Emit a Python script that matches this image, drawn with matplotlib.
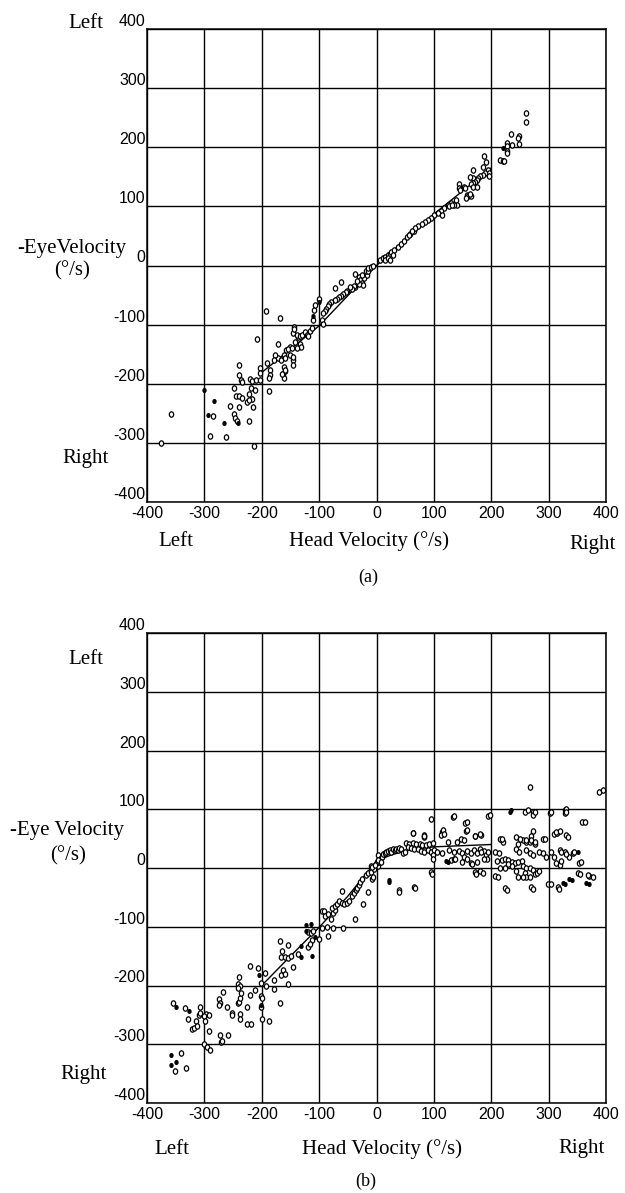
import matplotlib
matplotlib.use("Agg")
import matplotlib.pyplot as plt
from matplotlib.path import Path
from matplotlib.transforms import Affine2D

# ---------------- data ----------------
ticks = [-400, -300, -200, -100, 0, 100, 200, 300, 400]
tick_labels = ["-400", "-300", "-200", "-100", "0", "100", "200", "300", "400"]

# Panel (a): head velocity vs -eye velocity (deg/s), hollow markers
a_open_x = [-192, -168, -143, -145, -208, -172, -136, -151,
            -157, -162, -171, -177, -179, -166, -160, -151, -146, -145,
            -239, -190, -203, -203, -186, -186, -188,
            -162, -160, -163, -162,
            -240, -237, -235, -220, -217, -210, -203,
            -248, -219, -211, -188, -245, -240, -234, -223, -217, -226, -222,
            -256, -240, -216, -359, -285, -249, -246, -244, -223, -290, -262,
            -375, -213,
            -144, -139, -133, -129, -125, -122, -119, -116, -113, -134, -132,
            -138, -142, -154, -148, -110, -95, -93, -109, -145, -159, -165,
            -62, -73, -37, -31, -28, -25, -21, -17, -19, -14, -25, -23, -31,
            -37, -34, -40, -42, -47, -51, -54, -59, -62, -65, -68, -73, -79,
            -82, -85, -88, -90, -93, -14, -10, -6, 6, 11, 14, 20, 23, 25, 31,
            37, 42, 48, 54, 59, 65, 14, 20, 23, 28, -108, -100,
            261, 261, 234, 249, 247, 249, 228, 236, 227, 227, 227, 216, 220,
            223, 188, 190, 185, 194, 196, 196, 168, 189, 185, 180, 177, 175,
            169, 163, 172, 168, 164, 144, 144, 152, 155, 146, 169, 175, 158,
            160, 164, 163, 156, 138, 141, 135, 129, 124, 118, 112, 107, 101,
            95, 90, 84, 79, 73, 67, 62, 56, 114, 127, 132]
a_open_y = [-77, -89, -104, -115, -125, -133, -121, -138,
            -143, -151, -156, -152, -159, -159, -156, -152, -159, -168,
            -168, -165, -173, -181, -177, -185, -190,
            -172, -178, -184, -190,
            -186, -193, -197, -192, -196, -194, -193,
            -207, -207, -210, -213, -220, -221, -224, -217, -225, -231, -228,
            -238, -240, -240, -252, -255, -251, -258, -263, -263, -289, -290,
            -301, -305,
            -107, -117, -120, -117, -113, -117, -120, -110, -106, -133, -137,
            -140, -130, -141, -140, -93, -93, -99, -75, -155, -177, -184,
            -28, -38, -14, -20, -24, -29, -21, -16, -10, -9, -16, -33, -32,
            -37, -26, -35, -40, -37, -43, -44, -48, -51, -54, -57, -59, -62,
            -65, -69, -73, -77, -81, -4, -2, 0, 9, 12, 15, 18, 20, 23, 26,
            31, 37, 42, 48, 53, 59, 9, 12, 9, 18, -67, -57,
            258, 242, 223, 219, 216, 206, 207, 203, 202, 194, 190, 179, 176,
            176, 185, 175, 166, 162, 157, 151, 162, 156, 153, 151, 148, 145,
            148, 149, 142, 140, 137, 138, 131, 132, 131, 128, 132, 132, 120,
            117, 117, 121, 115, 111, 103, 103, 106, 103, 97, 92, 89, 86,
            81, 77, 73, 70, 66, 63, 58, 52, 86, 100, 102]
# Panel (a): filled markers
a_fill_x = [-301, -283, -294, -265, -242, -111, -101, 220]
a_fill_y = [-210, -230, -253, -266, -266, -86, -62, 199]
# Panel (a): fitted line
a_fit_x = [-200, -100, 0, 100, 200]
a_fit_y = [-181, -102, 0, 87, 165]

# Panel (b): hollow markers
b_open_x = [-355, -334, -308, -329, -314, -310, -307, -298, -292, -300, -299,
            -322, -318, -313, -292, -301, -295, -291, -273, -258, -271, -269,
            -341, -351, -332, -267, -275, -272, -274, -261, -252, -252, -238,
            -238, -226, -226, -218, -242, -239, -238, -236, -240, -241, -238,
            -241, -220, -212, -220, -206, -201, -202, -202, -199, -199, -188,
            -195, -192, -179, -179, -169, -169, -164, -154, -167, -160, -154,
            -149, -163, -166, -160, -155, -146, -136, -120, -114, -110, -113,
            -119, -116, -101, -95, -86, -84, -75, -58,
            -95, -91, -89, -84, -79, -75, -73, -78, -72, -69, -65, -60, -57,
            -52, -48, -42, -39, -36, -34, -31, -28, -25, -19, -14, -10, -4, 2,
            5, -60, -38, -24, -14, -7, -10, -7,
            268, 388, 394, 259, 273, 272, 302, 328, 328, 359, 95, 134, 155, 156,
            195, 63, 82, 82, 115, 113, 182, 171, 147, 152, 140, 124,
            52, 57, 63, 69, 75, 80, 86, 92, 98, 55, 60, 66, 72, 78, 83, 89,
            95, 101, 3, 6, 9, 11, 14, 17, 20, 23, 26, 29, 32, 34, 37, 40, 43,
            46, 49, 0, -3, -6, 2, 7, 98, 98, 129, 135,
            106, 115, 126, 135, 144, 149, 158, 164, 170, 175, 181, 187, 190,
            193, 187, 152, 158, 164, 175, 149,
            95, 172, 181, 207, 224, 270, 316, 299, 351, 371, 39, 66,
            216, 221, 244, 247, 256, 261, 267, 276, 290, 243, 249, 261, 267,
            273, 284, 290, 296, 305, 310, 319, 328, 207, 213, 218, 224, 230,
            236, 241, 247, 253, 256, 261, 267, 273, 276, 279, 284, 259, 261,
            267, 256, 247, 244, 236, 230, 224, 216, 210, 313, 319, 322, 336,
            342, 353, 273, 270, 310, 314, 330, 345,
            304, 318, 354, 369, 377, 273, 228, 211, 174, 186, 166, 96, 67, 39,
            197, 135, 157, 158, 171, 180, 264, 276, 305, 331, 331, 363, 312,
            319, 333, 219, 250, 261, 270, 276, 294, 322, 331, 357, 116, 118,
            64, 83, 183, 195, 136]
b_open_y = [-230, -238, -236, -257, -261, -251, -247, -248, -250, -252, -261,
            -274, -272, -269, -277, -300, -304, -309, -284, -284, -296, -294,
            -315, -346, -340, -211, -223, -229, -233, -236, -247, -251, -248,
            -257, -237, -266, -266, -230, -228, -221, -212, -186, -197, -201,
            -204, -217, -208, -166, -171, -196, -218, -237, -221, -257, -261,
            -179, -201, -190, -206, -229, -125, -141, -131, -152, -151, -154,
            -149, -173, -182, -180, -198, -169, -146, -109, -111, -107, -123,
            -134, -130, -121, -102, -100, -115, -102, -102,
            -74, -73, -82, -79, -86, -76, -71, -68, -65, -61, -57, -59, -62,
            -59, -56, -48, -43, -37, -34, -29, -23, -19, -12, -9, -6, -1, 4,
            10, -39, -86, -62, -41, -18, 4, 2,
            138, 129, 133, 96, 95, 91, 93, 99, 93, 78, 84, 87, 76, 63,
            88, 59, 56, 52, 62, 57, 56, 55, 49, 48, 45, 45,
            43, 41, 43, 41, 41, 40, 40, 41, 43, 36, 34, 32, 32, 29, 27, 30,
            27, 30, 22, 16, 19, 23, 25, 27, 29, 30, 27, 32, 30, 33, 30, 34, 32,
            25, 27, 11, 5, -16, 14, 11, 22, 15, 14, 15,
            27, 25, 30, 27, 29, 25, 29, 26, 30, 25, 33, 29, 22,
            16, 15, 18, 15, 8, 11, 11,
            -7, -7, -5, -14, -34, -33, -33, -27, -8, -14, -37, -32,
            49, 44, 52, 41, 47, 44, 44, 41, 49, 32, 27, 30, 25,
            22, 27, 25, 19, 27, 18, 30, 27, 27, 25, 14, 15, 14,
            11, 8, 10, 12, 3, 0, 0, -3, -11, -8, -5, -8, -15,
            -16, -16, -16, -5, 3, 7, 0, 0, 12, 8, 5, 12, 19,
            25, 8, 63, 55, 58, 60, 56, 27,
            -28, -35, -10, -12, -15, -35, -37, -15, -10, -8, 6, -10, -34, -41,
            90, 88, 78, 64, 55, 58, 98, 95, 96, 100, 95, 79, 61,
            63, 53, 50, 50, 47, 47, 44, 50, 27, 24, 10, 64, 58,
            60, 55, 27, 27, 15]
# Panel (b): filled markers
b_fill_x = [-349, -326, -359, -349, -359, -204, -201, -132, -132, -123, -114,
            -123, -108, -112, 232, 122, 325, 336, 365, 21, 234, 351, 124, 328,
            340, 370, 21]
b_fill_y = [-236, -243, -318, -331, -336, -182, -233, -132, -152, -97, -96,
            -107, -118, -150, 96, 12, -25, -19, -25, -21, 98, 27, 11, -27,
            -21, -28, -24]
# Panel (b): fitted curve
b_fit_x = [-200, -150, -100, -50, 0, 25, 50, 75, 100, 150, 200]
b_fit_y = [-200, -150, -101, -48, 12, 22, 29, 33, 36, 38, 40]

# ---------------- figure ----------------
W, H = 625, 1193
fig = plt.figure(figsize=(W / 100, H / 100), dpi=100)
fig.patch.set_facecolor("white")

SERIF = ["Liberation Serif", "DejaVu Serif"]
SANS = ["Liberation Sans", "DejaVu Sans"]

ell = Path.unit_circle().transformed(Affine2D().scale(0.8, 1.0))


def fig_text(x, y, s, size=15, **kw):
    fig.text(x / W, 1 - y / H, s, fontsize=size, family=SERIF,
             ha="center", va="center", **kw)


def make_panel(rect, ox, oy, fx, fy, lx, ly):
    ax = fig.add_axes(rect)
    ax.set_xlim(-400, 400)
    ax.set_ylim(-400, 400)
    ax.set_xticks(ticks)
    ax.set_yticks(ticks)
    ax.set_xticklabels(tick_labels, family=SANS, fontsize=11.5)
    ax.set_yticklabels(tick_labels, family=SANS, fontsize=11.5)
    for lbl in ax.get_yticklabels():
        lbl.set_verticalalignment("bottom")
    ax.tick_params(length=0, pad=1)
    ax.tick_params(axis="x", pad=3)
    ax.grid(True, color="black", linewidth=1.0)
    ax.set_axisbelow(True)
    for sp in ax.spines.values():
        sp.set_linewidth(1.1)
        sp.set_color("black")
    ax.plot(lx, ly, color="black", linewidth=1.0, zorder=3)
    ax.scatter(ox, oy, marker=ell, s=15, facecolors="white",
               edgecolors="black", linewidths=0.9, zorder=4)
    ax.scatter(fx, fy, marker=ell, s=7, color="black", zorder=5)
    return ax


# panel (a)
make_panel([147 / W, 1 - 502 / H, 459 / W, 473 / H],
           a_open_x, a_open_y, a_fill_x, a_fill_y, a_fit_x, a_fit_y)
# panel (b)
make_panel([147 / W, 1 - 1103 / H, 459 / W, 470 / H],
           b_open_x, b_open_y, b_fill_x, b_fill_y, b_fit_x, b_fit_y)

# texts panel (a)
fig_text(86, 24, "Left")
fig_text(72, 248, "-EyeVelocity")
fig_text(72, 271, "(°/s)")
fig_text(86, 459, "Right")
fig_text(176, 541, "Left")
fig_text(369, 541, "Head Velocity (°/s)")
fig_text(593, 545, "Right")
fig_text(368, 577, "(a)", size=13)

# texts panel (b)
fig_text(86, 660, "Left")
fig_text(67, 831, "-Eye Velocity")
fig_text(68, 856, "(°/s)")
fig_text(84, 1075, "Right")
fig_text(172, 1149, "Left")
fig_text(382, 1149, "Head Velocity (°/s)")
fig_text(582, 1149, "Right")
fig_text(366, 1181, "(b)", size=13)

fig.savefig("out.png", dpi=100, facecolor="white")
